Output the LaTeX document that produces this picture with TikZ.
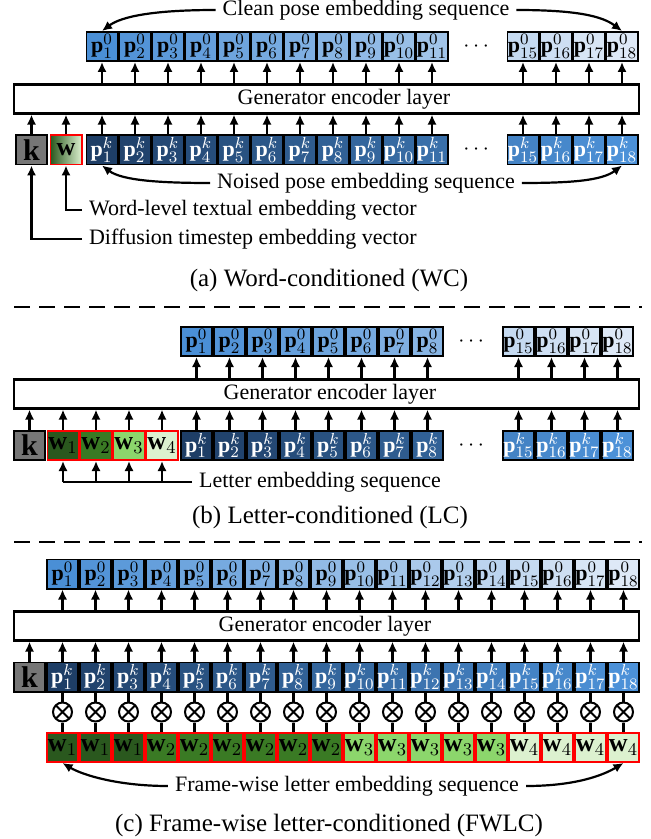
\documentclass[tikz,border=0pt]{standalone}
\usepackage{amsmath}
\usepackage{fontspec}
\setmainfont{Liberation Serif}
\usepackage{xcolor}
\usetikzlibrary{arrows.meta}

\definecolor{pzA}{RGB}{74,143,214}
\definecolor{pzB}{RGB}{222,233,247}
\definecolor{pkA}{RGB}{30,62,102}
\definecolor{pkB}{RGB}{76,145,216}
\definecolor{kgray}{RGB}{118,118,118}
\definecolor{wone}{RGB}{42,88,30}
\definecolor{wtwo}{RGB}{58,122,36}
\definecolor{wthree}{RGB}{140,214,108}
\definecolor{wfour}{RGB}{220,241,207}

\begin{document}
\begin{tikzpicture}[
    x=0.5pt, y=-0.5pt,
    font=\fontsize{11}{13}\selectfont,
    cell/.style={draw, line width=0.8pt, minimum width=15.7pt, minimum height=14.7pt, inner sep=0pt},
    pzero/.style={cell},
    pnois/.style={cell, text=white},
    kbox/.style={cell, fill=kgray, font=\fontsize{15}{15}\selectfont\bfseries},
    wbox/.style={cell, draw=red, font=\fontsize{13}{13}\selectfont},
    enc/.style={draw, line width=1.1pt, minimum width=312.5pt, minimum height=14.5pt, inner sep=0pt},
    mult/.style={circle, draw, line width=1pt, minimum size=9.5pt, inner sep=0pt, fill=white,
        path picture={\draw[line width=1pt] (path picture bounding box.north west) -- (path picture bounding box.south east)
            (path picture bounding box.north east) -- (path picture bounding box.south west);}},
    arrow/.style={-{Latex[length=5pt,width=4.6pt]}, line width=1.1pt},
    link/.style={line width=1.1pt},
    sep/.style={line width=1.1pt, dash pattern=on 8pt off 4.5pt},
    caption/.style={font=\fontsize{12.5}{14}\selectfont}
]
\useasboundingbox (0,0) rectangle (651,839);

% (a) word-conditioned
\foreach \i in {1,2,...,11,15,16,17,18}{
    \pgfmathsetmacro\xx{\i<12 ? 102+(\i-1)*33 : 523+(\i-15)*33}
    \pgfmathtruncatemacro\mix{100*(18-\i)/17}
    \node[pzero, fill=pzA!\mix!pzB] (p0a-\i) at (\xx,46.5) {$\mathbf{p}^{0}_{\i}$};
    \node[pnois, fill=pkA!\mix!pkB] (pka-\i) at (\xx,150) {$\mathbf{p}^{k}_{\i}$};
}
\node (dotsA0) at (478,46.5) {$\cdots$};
\node (dotsAk) at (478,150) {$\cdots$};
\node[enc] (encA) at (326.5,99) {};
\node (encAtxt) at (344,99) {Generator encoder layer};
\node[kbox] (kA) at (31.5,150) {k};
\node[wbox, left color=wone, right color=wfour] (wA) at (66,150) {$\mathbf{w}$};

\foreach \i in {1,2,...,11,15,16,17,18}{
    \draw[arrow] (encA.north -| p0a-\i) -- (p0a-\i.south);
    \draw[arrow] (pka-\i.north) -- (pka-\i.north |- encA.south);
}
\foreach \n in {kA,wA}
    \draw[arrow] (\n.north) -- (\n.north |- encA.south);

\node (cleanA) at (366,10) {Clean pose embedding sequence};
\draw[arrow] (cleanA.west) .. controls +(-60,0) and +(20,-15) .. (p0a-1.north);
\draw[arrow] (cleanA.east) .. controls +(60,0) and +(-20,-15) .. (p0a-18.north);
\node (noisA) at (366,183) {Noised pose embedding sequence};
\draw[arrow] (noisA.west) .. controls +(-50,0) and +(20,15) .. (pka-1.south);
\draw[arrow] (noisA.east) .. controls +(50,0) and +(-20,15) .. (pka-18.south);
\node[anchor=west] (wordA) at (82,210) {Word-level textual embedding vector};
\draw[arrow] (wordA.west) -| (wA.south);
\node[anchor=west] (diffA) at (82,239) {Diffusion timestep embedding vector};
\draw[arrow] (diffA.west) -| (kA.south);
\node[caption] (capA) at (329,280) {(a) Word-conditioned (WC)};

\draw[sep] (14,307) -- (642,307);

% (b) letter-conditioned
\foreach \i in {1,2,...,8,15,16,17,18}{
    \pgfmathsetmacro\xx{\i<12 ? 196.5+(\i-1)*33 : 518.5+(\i-15)*33}
    \pgfmathtruncatemacro\mix{100*(18-\i)/17}
    \node[pzero, fill=pzA!\mix!pzB] (p0b-\i) at (\xx,341.5) {$\mathbf{p}^{0}_{\i}$};
    \node[pnois, fill=pkA!\mix!pkB] (pkb-\i) at (\xx,445.5) {$\mathbf{p}^{k}_{\i}$};
}
\node (dotsB0) at (473,341.5) {$\cdots$};
\node (dotsBk) at (473,445.5) {$\cdots$};
\node[enc] (encB) at (326.5,394) {};
\node (encBtxt) at (330,394) {Generator encoder layer};
\node[kbox] (kB) at (29.5,445.5) {k};
\foreach \i/\c in {1/wone,2/wtwo,3/wthree,4/wfour}
    \node[wbox, fill=\c] (wB-\i) at ({63+(\i-1)*33},445.5) {$\mathbf{w}_{\i}$};

\foreach \i in {1,2,...,8,15,16,17,18}{
    \draw[arrow] (encB.north -| p0b-\i) -- (p0b-\i.south);
    \draw[arrow] (pkb-\i.north) -- (pkb-\i.north |- encB.south);
}
\foreach \n in {kB,wB-1,wB-2,wB-3,wB-4}
    \draw[arrow] (\n.north) -- (\n.north |- encB.south);

\node[anchor=west] (letB) at (192,482) {Letter embedding sequence};
\draw[link] (letB.west) -- (letB.west -| wB-1);
\foreach \i in {1,...,4}
    \draw[arrow] (letB.west -| wB-\i) -- (wB-\i.south);
\node[caption] (capB) at (330,517) {(b) Letter-conditioned (LC)};

\draw[sep] (14,542) -- (642,542);

% (c) frame-wise letter-conditioned
\foreach \i in {1,...,18}{
    \pgfmathsetmacro\xx{62.5+(\i-1)*33}
    \pgfmathtruncatemacro\mix{100*(18-\i)/17}
    \node[pzero, fill=pzA!\mix!pzB] (p0c-\i) at (\xx,574) {$\mathbf{p}^{0}_{\i}$};
    \node[pnois, fill=pkA!\mix!pkB] (pkc-\i) at (\xx,677) {$\mathbf{p}^{k}_{\i}$};
    \node[mult] (xc-\i) at (\xx,712) {};
}
\foreach \i/\c/\n in {1/wone/1,2/wone/1,3/wone/1,4/wtwo/2,5/wtwo/2,6/wtwo/2,7/wtwo/2,8/wtwo/2,9/wtwo/2,
    10/wthree/3,11/wthree/3,12/wthree/3,13/wthree/3,14/wthree/3,15/wfour/4,16/wfour/4,17/wfour/4,18/wfour/4}
    \node[wbox, fill=\c] (wC-\i) at ({62.5+(\i-1)*33},747.5) {$\mathbf{w}_{\n}$};
\node[enc] (encC) at (326.5,626) {};
\node (encCtxt) at (325,626) {Generator encoder layer};
\node[kbox] (kC) at (29.5,677) {k};

\foreach \i in {1,...,18}{
    \draw[arrow] (encC.north -| p0c-\i) -- (p0c-\i.south);
    \draw[arrow] (pkc-\i.north) -- (pkc-\i.north |- encC.south);
    \draw[link] (pkc-\i.south) -- (xc-\i.north);
    \draw[link] (xc-\i.south) -- (wC-\i.north);
}
\draw[arrow] (kC.north) -- (kC.north |- encC.south);

\node (frmC) at (347,786) {Frame-wise letter embedding sequence};
\draw[arrow] (frmC.west) .. controls +(-50,0) and +(20,12) .. (wC-1.south);
\draw[arrow] (frmC.east) .. controls +(50,0) and +(-20,12) .. (wC-18.south);
\node[caption] (capC) at (329,825) {(c) Frame-wise letter-conditioned (FWLC)};
\end{tikzpicture}
\end{document}
